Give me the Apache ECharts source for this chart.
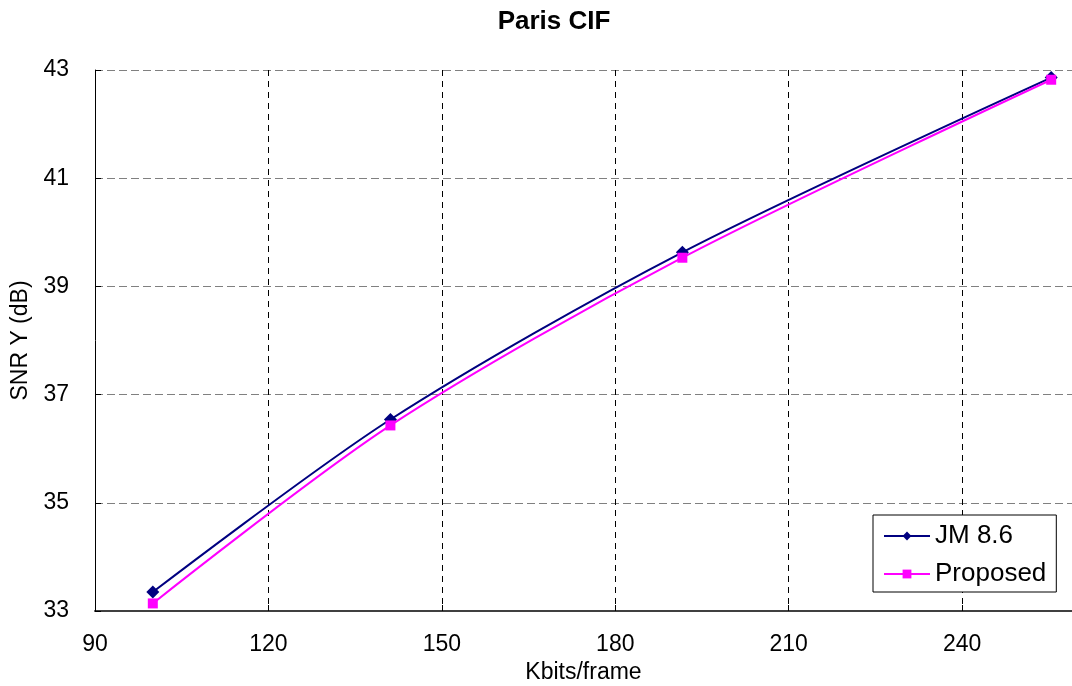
<!DOCTYPE html>
<html>
<head>
<meta charset="utf-8">
<script src="https://cdn.jsdelivr.net/npm/echarts@6/dist/echarts.min.js"></script>
<style>html,body{margin:0;padding:0;background:#fff}#c{width:1072px;height:686px}</style>
</head>
<body>
<div id="c"></div>
<script>
const xValues = [100, 141.1, 191.6, 255.4];
const jm86 = [33.35, 36.54, 39.63, 42.86];
const proposed = [33.14, 36.43, 39.53, 42.82];
const seriesNames = ['JM 8.6', 'Proposed'];

const chart = echarts.init(document.getElementById('c'));
const font = 'Liberation Sans, Arial, sans-serif';
chart.setOption({
  animation: false,
  backgroundColor: '#fff',
  title: {
    text: 'Paris CIF', left: 549, top: 4, textAlign: 'center',
    textStyle: { fontFamily: font, fontSize: 26, fontWeight: 'bold', color: '#000' }
  },
  grid: { left: 95, right: 0, top: 70, bottom: 75, containLabel: false, outerBoundsMode: 'none' },
  legend: {
    orient: 'vertical', left: 873, top: 515,
    padding: [8, 10, 5, 10], itemGap: 12,
    itemWidth: 46, itemHeight: 11,
    borderColor: '#000', borderWidth: 1, backgroundColor: '#fff',
    textStyle: { fontFamily: font, fontSize: 26, color: '#000' },
    data: seriesNames
  },
  xAxis: {
    type: 'value', min: 90, max: 259, interval: 30,
    name: 'Kbits/frame', nameLocation: 'middle', nameGap: 47,
    nameTextStyle: { fontFamily: font, fontSize: 23, color: '#000' },
    axisLine: { lineStyle: { color: '#404040', width: 2 } },
    axisTick: { inside: true, length: 6, lineStyle: { color: '#000' } },
    axisLabel: { margin: 22, fontFamily: font, fontSize: 23, color: '#000',
      formatter: v => (v % 30 === 0 ? String(v) : '') },
    splitLine: { show: true, lineStyle: { color: '#000', type: [6, 5], width: 1 } }
  },
  yAxis: {
    type: 'value', min: 33, max: 43, interval: 2,
    name: 'SNR Y (dB)', nameLocation: 'middle', nameGap: 62,
    nameTextStyle: { fontFamily: font, fontSize: 23, color: '#000' },
    axisLine: { show: true, lineStyle: { color: '#000', width: 1 } },
    axisTick: { show: true, inside: true, length: 6, lineStyle: { color: '#000' } },
    axisLabel: { margin: 26, fontFamily: font, fontSize: 23, color: '#000' },
    splitLine: { show: true, lineStyle: { color: '#808080', type: [8, 4], width: 1 } }
  },
  series: [
    {
      name: seriesNames[0], type: 'line', smooth: 0.3,
      data: xValues.map((x, i) => [x, jm86[i]]),
      symbol: 'diamond', symbolSize: 13,
      itemStyle: { color: '#000080' },
      lineStyle: { color: '#000080', width: 2 }, z: 3
    },
    {
      name: seriesNames[1], type: 'line', smooth: 0.3,
      data: xValues.map((x, i) => [x, proposed[i]]),
      symbol: 'rect', symbolSize: 10,
      itemStyle: { color: '#FF00FF' },
      lineStyle: { color: '#FF00FF', width: 2 }, z: 4
    }
  ]
});
</script>
</body>
</html>
